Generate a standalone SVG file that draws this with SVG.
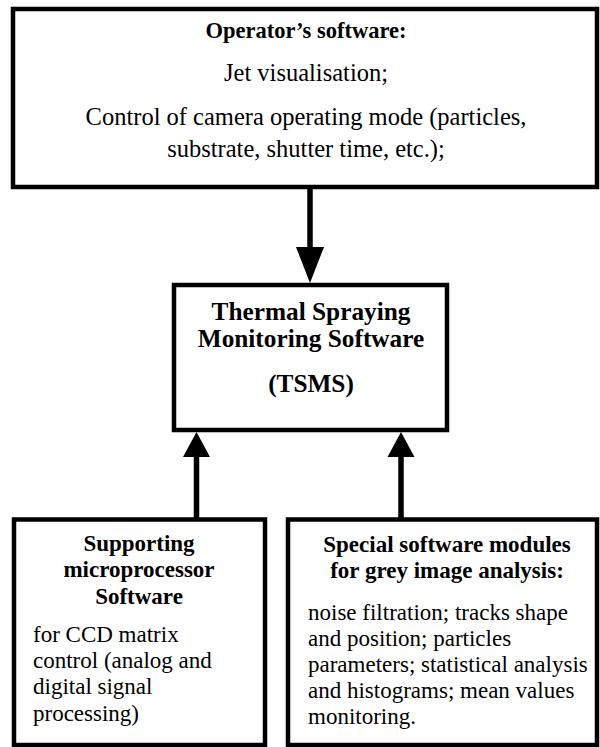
<svg xmlns="http://www.w3.org/2000/svg" width="600" height="747" viewBox="0 0 600 747">
<style>
.box{fill:#fff;stroke:#000;stroke-width:4.5}
text{font-family:'Liberation Serif','Times New Roman','DejaVu Serif',serif;fill:#000}
.b{font-weight:bold}
.c{text-anchor:middle}
.s22{font-size:22.5px}
.s24{font-size:24.5px}
.s25{font-size:25.3px}
.s23{font-size:23px}
.shaft{stroke:#000;stroke-width:5.5;fill:none}
.head{fill:#000}
</style>
<rect width="600" height="747" fill="#fff"/>
<g id="operator">
<rect class="box" x="13" y="9" width="584" height="178"/>
<text class="b c s22" x="306" y="38">Operator’s software:</text>
<text class="c s24" x="306" y="81">Jet visualisation;</text>
<text class="c s24" x="306" y="125">Control of camera operating mode (particles,</text>
<text class="c s24" x="306" y="157">substrate, shutter time, etc.);</text>
</g>
<g id="tsms">
<rect class="box" x="174" y="285" width="273" height="145"/>
<text class="b c s25" x="311" y="320">Thermal Spraying</text>
<text class="b c s25" x="311" y="347">Monitoring Software</text>
<text class="b c s25" x="311" y="392">(TSMS)</text>
</g>
<g id="micro">
<rect class="box" x="14" y="519.5" width="251" height="225.5"/>
<text class="b c s23" x="139" y="551">Supporting</text>
<text class="b c s23" x="139" y="577">microprocessor</text>
<text class="b c s23" x="139" y="604">Software</text>
<text class="s23" x="33" y="642">for CCD matrix</text>
<text class="s23" x="33" y="668">control (analog and</text>
<text class="s23" x="33" y="694">digital signal</text>
<text class="s23" x="33" y="721">processing)</text>
</g>
<g id="modules">
<rect class="box" x="288" y="519.5" width="309" height="225.5"/>
<text class="b c s23" x="447" y="552">Special software modules</text>
<text class="b c s23" x="447" y="578">for grey image analysis:</text>
<text class="s23" x="308" y="620">noise filtration; tracks shape</text>
<text class="s23" x="308" y="646">and position; particles</text>
<text class="s23" x="308" y="672">parameters; statistical analysis</text>
<text class="s23" x="308" y="698">and histograms; mean values</text>
<text class="s23" x="308" y="724">monitoring.</text>
</g>
<g id="connectors">
<line class="shaft" x1="310" y1="187" x2="310" y2="250"/>
<polygon class="head" points="296,247 324,247 310,283"/>
<line class="shaft" x1="196.5" y1="519" x2="196.5" y2="454"/>
<polygon class="head" points="183,457 210,457 196.5,432"/>
<line class="shaft" x1="401" y1="519" x2="401" y2="454"/>
<polygon class="head" points="387.5,457 414.5,457 401,432"/>
</g>
</svg>
